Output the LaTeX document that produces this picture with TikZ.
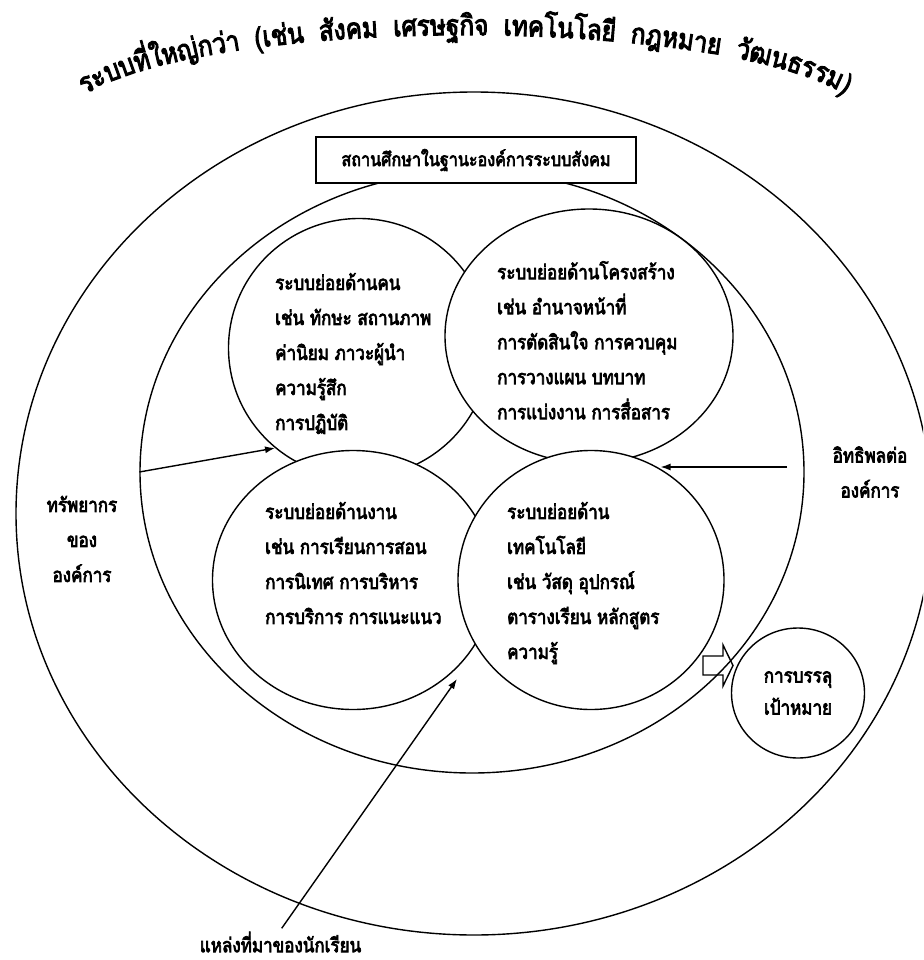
\documentclass[tikz,border=0pt]{standalone}
\usepackage{fontspec}
\newfontfamily\thaifont[Script=Thai, FakeStretch=0.85, FakeBold=3.5]{Loma}
\newcommand\titlefont{\thaifont\fontsize{28.5}{32}\selectfont}
\usetikzlibrary{shapes.geometric,arrows.meta,decorations.text}

\begin{document}
\begin{tikzpicture}[x=1pt, y=-1pt,
    >={Latex[length=10pt,width=7pt]},
    sys/.style={ellipse, draw, line width=1.4pt, inner sep=0pt},
    sub/.style={sys, fill=white},
    txt/.style={font=\thaifont\fontsize{20}{35}\selectfont, inner sep=0pt}]
    \clip (0,0) rectangle (923,960);
    % larger system
    \node[sys, minimum width=916pt, minimum height=843pt] (env) at (474,513.5) {};
    \path[decorate, decoration={text along path, text align={fit to path stretching spaces},
        text={|\titlefont|{ระ}{บบ}{ที่}{ใหญ่}{กว่า} ({เช่น} {สัง}{คม} {เศรษ}{ฐ}{กิจ} {เทค}{โน}{โล}{ยี} {กฎ}{หมาย} {วัฒ}{น}{ธร}{รม})}}]
        (85,95) arc[start angle=198.2, end angle=341.8, x radius=400, y radius=87];
    % organisation
    \node[sys, minimum width=664pt, minimum height=602pt] (org) at (472,472) {};
    \node[txt, draw, fill=white, line width=1.1pt, minimum width=320pt, minimum height=46pt, font=\thaifont\fontsize{19}{22}\selectfont] (school) at (476,160) {สถานศึกษาในฐานะองค์การระบบสังคม};
    % subsystems
    \node[sub, minimum width=261pt, minimum height=259pt] (people) at (359,348) {};
    \node[sub, minimum width=288pt, minimum height=254pt] (structure) at (589,336) {};
    \node[sub, minimum width=281pt, minimum height=259pt] (task) at (353,580) {};
    \node[sub, minimum width=266pt, minimum height=259pt] (tech) at (591,580) {};
    \node[txt, align=left, anchor=north west] (peopleTxt) at (275,273) {ระบบย่อยด้านคน\\เช่น ทักษะ สถานภาพ\\ค่านิยม ภาวะผู้นำ\\ความรู้สึก\\การปฏิบัติ};
    \node[txt, align=left, anchor=north west] (structureTxt) at (497,261) {ระบบย่อยด้านโครงสร้าง\\เช่น อำนาจหน้าที่\\การตัดสินใจ การควบคุม\\การวางแผน บทบาท\\การแบ่งงาน การสื่อสาร};
    \node[txt, align=left, anchor=north west] (taskTxt) at (265,502) {ระบบย่อยด้านงาน\\เช่น การเรียนการสอน\\การนิเทศ การบริหาร\\การบริการ การแนะแนว};
    \node[txt, align=left, anchor=north west] (techTxt) at (507,502) {ระบบย่อยด้าน\\เทคโนโลยี\\เช่น วัสดุ อุปกรณ์\\ตารางเรียน หลักสูตร\\ความรู้};
    % inputs and output
    \node[txt, align=center] (resources) at (82,539) {ทรัพยากร\\ของ\\องค์การ};
    \node[txt, align=center] (influence) at (870,472) {อิทธิพลต่อ\\องค์การ};
    \node[txt, align=center] (students) at (280.5,942) {แหล่งที่มาของนักเรียน};
    \node[sys, minimum width=133pt, minimum height=130pt, font=\thaifont\fontsize{20}{32}\selectfont, align=center] (goal) at (798,693) {การบรรลุ\\เป้าหมาย};
    \draw[line width=1.4pt] (703,656) -- (723,656) -- (723,645) -- (733,665.5) -- (723,686) -- (723,675) -- (703,675) -- cycle;
    % arrows
    \coordinate (inflFrom) at (787,467);
    \coordinate (stuFrom) at (281.7,928.3);
    \coordinate (stuTo) at (457,679);
    \draw[->, line width=1.4pt] (org.west) -- (people.230);
    \draw[->, line width=1.4pt] (inflFrom) -- (inflFrom -| tech.58);
    \draw[->, line width=1.4pt] (stuFrom) -- (stuTo);
\end{tikzpicture}
\end{document}
